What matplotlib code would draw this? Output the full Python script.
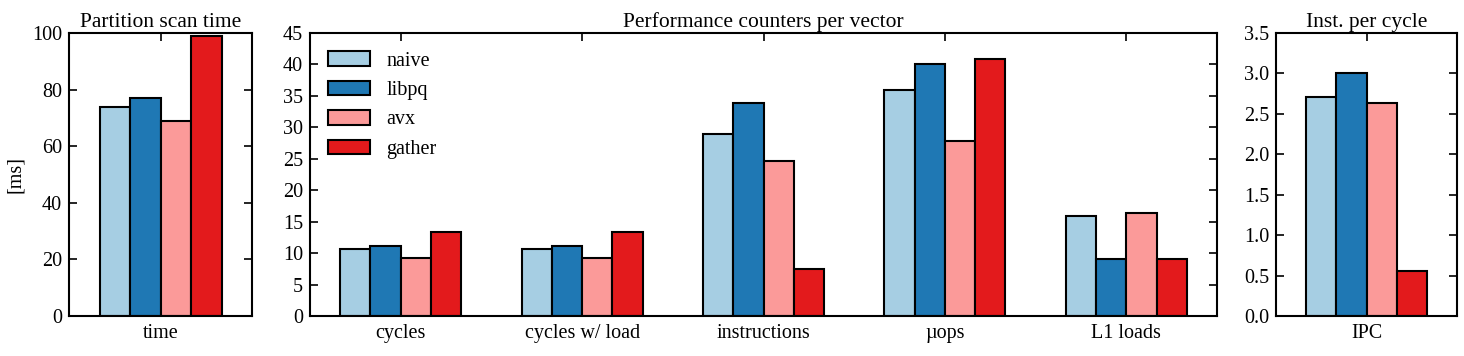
import matplotlib
matplotlib.use('Agg')
import matplotlib.pyplot as plt
import numpy as np

plt.rcParams['font.family'] = ['Liberation Serif', 'DejaVu Serif']
plt.rcParams['font.size'] = 14.5

series = ['naive', 'libpq', 'avx', 'gather']
colors = ['#a6cee3', '#1f78b4', '#fb9a99', '#e31a1c']

time_categories = ['time']
scan_time = [73.8, 77.2, 68.9, 98.8]

counter_categories = ['cycles', 'cycles w/ load', 'instructions', 'µops', 'L1 loads']
counters_naive = [10.6, 10.6, 28.9, 35.9, 15.9]
counters_libpq = [11.2, 11.2, 33.9, 40.0, 9.0]
counters_avx = [9.3, 9.3, 24.6, 27.8, 16.3]
counters_gather = [13.3, 13.3, 7.5, 40.9, 9.1]

ipc_categories = ['IPC']
ipc = [2.71, 3.01, 2.63, 0.56]

W = 1464 / 100
H = 356 / 100
fig = plt.figure(figsize=(W, H), dpi=100)

def make_ax(x0, x1):
    return fig.add_axes([x0 / 1464, 40 / 356, (x1 - x0) / 1464, 283 / 356])

ax1 = make_ax(69, 252)
ax2 = make_ax(310, 1217)
ax3 = make_ax(1276, 1457)

bw = 1 / 6

def style(ax, cats, ylim, yticks, title):
    ax.set_xlim(-0.5, len(cats) - 0.5)
    ax.set_ylim(*ylim)
    ax.set_yticks(yticks)
    ax.set_xticks(np.arange(len(cats)))
    ax.set_xticklabels(cats)
    ax.tick_params(direction='in', top=True, right=True, length=6, width=1.2, pad=5)
    ax.tick_params(axis='x', bottom=False, pad=6)
    for s in ax.spines.values():
        s.set_linewidth(1.5)
    ax.set_title(title, fontsize=15.5, pad=4)

def draw_group(ax, values_per_series, ncat):
    x = np.arange(ncat)
    for i, (name, vals, c) in enumerate(zip(series, values_per_series, colors)):
        ax.bar(x + (i - 1.5) * bw, vals, bw, color=c, edgecolor='black', linewidth=1.5, label=name, zorder=2)

# left
draw_group(ax1, [[v] for v in scan_time], 1)
style(ax1, time_categories, (0, 100), np.arange(0, 101, 20), 'Partition scan time')
ax1.set_ylabel('[ms]', labelpad=5)

# middle
draw_group(ax2, [counters_naive, counters_libpq, counters_avx, counters_gather], len(counter_categories))
style(ax2, counter_categories, (0, 45), np.arange(0, 46, 5), 'Performance counters per vector')
ax2.legend(loc='upper left', frameon=False, handlelength=2.1, handleheight=0.75,
           handletextpad=0.8, labelspacing=0.5, borderaxespad=0.5, fontsize=14.5)

# right
draw_group(ax3, [[v] for v in ipc], 1)
style(ax3, ipc_categories, (0, 3.5), np.arange(0, 3.51, 0.5), 'Inst. per cycle')
ax3.set_yticklabels(['%.1f' % t for t in np.arange(0, 3.51, 0.5)])

fig.savefig('out.png', dpi=100)
